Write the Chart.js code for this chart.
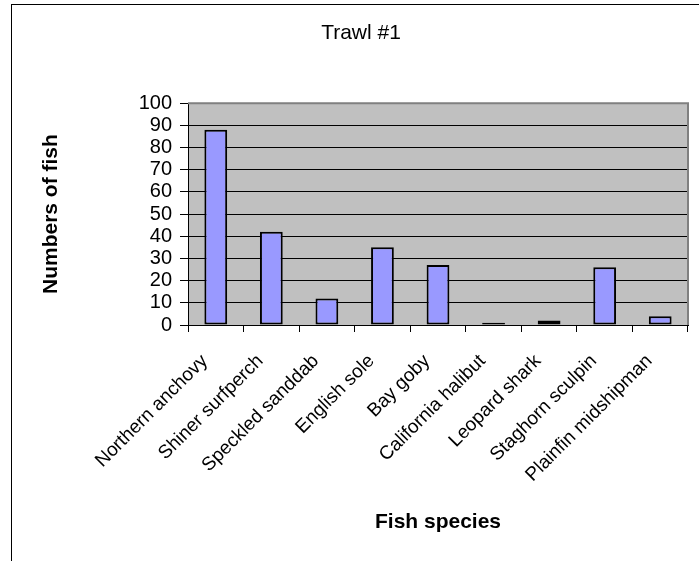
<!DOCTYPE html>
<html>
<head>
<meta charset="utf-8">
<title>Trawl #1</title>
<script src="https://cdn.jsdelivr.net/npm/chart.js@4.4.1/dist/chart.umd.min.js"></script>
<style>
  html, body { margin: 0; padding: 0; background: #fff; overflow: hidden; width: 699px; height: 561px; }
  #frame { position: absolute; left: 11px; top: 4px; width: 760px; height: 620px;
           border-left: 1px solid #000; border-top: 1px solid #000; }
  #chart { position: absolute; left: 0; top: 0; display: block; }
</style>
</head>
<body>
<div id="frame"></div>
<canvas id="chart" width="711" height="561"></canvas>
<script>
// Catch counts per species for the first trawl
const chartTitle = 'Trawl #1';
const species = [
  'Northern anchovy', 'Shiner surfperch', 'Speckled sanddab', 'English sole',
  'Bay goby', 'California halibut', 'Leopard shark', 'Staghorn sculpin',
  'Plainfin midshipman'
];
const fishCounts = [88, 42, 12, 35, 27, 1, 2, 26, 4];
const yTickMin = 0;
const yTickMax = 100;
const yTickStep = 10;
const xAxisTitle = 'Fish species';
const yAxisTitle = 'Numbers of fish';

const FONT = "'Liberation Sans', Arial, Helvetica, sans-serif";
Chart.defaults.font.family = FONT;
Chart.defaults.color = '#000';

// Grey plot background and the grey frame on the top and right edges
const plotFrame = {
  id: 'plotFrame',
  beforeDraw(chart) {
    const { ctx, chartArea: a } = chart;
    ctx.save();
    ctx.fillStyle = '#c0c0c0';
    ctx.fillRect(a.left, a.top, a.right - a.left, a.bottom - a.top);
    ctx.restore();
  },
  beforeDatasetsDraw(chart) {
    const { ctx, chartArea: a } = chart;
    ctx.save();
    ctx.strokeStyle = '#808080';
    ctx.lineWidth = 2;
    ctx.beginPath();
    ctx.moveTo(a.left, a.top);
    ctx.lineTo(a.right, a.top);
    ctx.lineTo(a.right, a.bottom);
    ctx.stroke();
    ctx.restore();
  }
};

new Chart(document.getElementById('chart'), {
  type: 'bar',
  data: {
    labels: species,
    datasets: [{
      data: fishCounts,
      backgroundColor: '#9999ff',
      borderColor: '#000',
      borderWidth: 2,
      borderSkipped: false,
      barPercentage: 0.41,
      categoryPercentage: 1.0
    }]
  },
  options: {
    responsive: false,
    animation: false,
    events: [],
    layout: { padding: { left: 11, top: 4, right: 0, bottom: 0 } },
    plugins: {
      legend: { display: false },
      tooltip: { enabled: false },
      title: {
        display: true,
        text: chartTitle,
        color: '#000',
        font: { size: 21, weight: 'normal', family: FONT },
        padding: { top: 17, bottom: 57 }
      }
    },
    scales: {
      x: {
        grid: {
          display: true,
          offset: true,
          drawOnChartArea: false,
          drawTicks: true,
          tickLength: 7,
          color: '#000',
          lineWidth: 1
        },
        border: { display: true, color: '#000', width: 1 },
        ticks: {
          autoSkip: false,
          minRotation: 45,
          maxRotation: 45,
          padding: 18,
          labelOffset: -11,
          color: '#000',
          font: { size: 19, family: FONT }
        },
        title: {
          display: true,
          text: xAxisTitle,
          color: '#000',
          font: { size: 21, weight: 'bold', family: FONT },
          padding: { top: 0, bottom: 26 }
        },
        afterFit(scale) { scale.height = 236; }
      },
      y: {
        position: 'left',
        min: yTickMin,
        max: yTickMax,
        grid: {
          color: '#000',
          lineWidth: 1,
          drawTicks: true,
          tickLength: 8
        },
        border: { display: true, color: '#000', width: 1 },
        ticks: {
          stepSize: yTickStep,
          autoSkip: false,
          padding: 8,
          color: '#000',
          font: { size: 20, family: FONT, lineHeight: 1 }
        },
        title: {
          display: true,
          text: yAxisTitle,
          color: '#000',
          font: { size: 21, weight: 'bold', family: FONT },
          padding: { top: 27.4, bottom: 0 }
        },
        afterFit(scale) { scale.width = 177; }
      },
      yRight: {
        type: 'linear',
        position: 'right',
        display: true,
        min: yTickMin,
        max: yTickMax,
        grid: { display: false, drawTicks: false },
        border: { display: false },
        ticks: { display: false },
        afterFit(scale) { scale.width = 23; }
      }
    }
  },
  plugins: [plotFrame]
});
</script>
</body>
</html>
